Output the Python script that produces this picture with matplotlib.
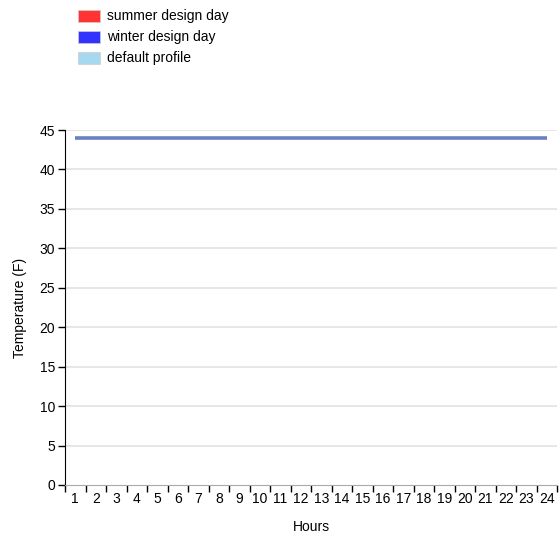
import numpy as np
import matplotlib.pyplot as plt
from matplotlib.patches import Rectangle

plt.rcParams['font.family'] = ['Liberation Sans', 'DejaVu Sans']

hours = list(range(1, 25))
temps = [44] * 24
legend_labels = ['summer design day', 'winter design day', 'default profile']
legend_colors = ['#ff3333', '#3333ff', '#a6d8f0']

fs = 10

fig = plt.figure(figsize=(5.6, 5.38), dpi=100)
ax = fig.add_axes([65 / 560, 1 - 485 / 538, 492 / 560, 355 / 538])

# band positions: hour i sits in the middle of band [i-1, i]
xpos = np.arange(len(hours)) + 0.5
ax.plot(xpos, temps, color='#6a80c0', linewidth=2.6, solid_capstyle='butt')

ax.set_xlim(0, len(hours))
ax.set_ylim(0, 45)
ax.set_yticks(range(0, 46, 5))
ax.set_xticks(np.arange(len(hours) + 1))
ax.set_xticklabels([])
ax.set_xticks(xpos, minor=True)
ax.set_xticklabels([str(h) for h in hours], minor=True)
ax.tick_params(axis='x', which='minor', length=0, labelsize=fs, pad=5)
ax.tick_params(axis='x', which='major', length=5, width=1, color='black')
ax.tick_params(axis='y', length=5, width=1, labelsize=fs, pad=2)

for y in range(5, 46, 5):
    ax.axhline(y, color='#e3e3e3', linewidth=1.2, zorder=0)

ax.spines['top'].set_visible(False)
ax.spines['right'].set_visible(False)
ax.spines['bottom'].set_color('#aaaaaa')
ax.spines['left'].set_color('black')

ax.set_xlabel('Hours', fontsize=fs, labelpad=10)
ax.set_ylabel('Temperature (F)', fontsize=fs, labelpad=9)

# legend at top left
for i, (lab, col) in enumerate(zip(legend_labels, legend_colors)):
    y0 = 538 - 10 - i * 21
    fig.patches.append(Rectangle((78 / 560, (y0 - 12) / 538), 22 / 560, 12 / 538,
                                 transform=fig.transFigure, facecolor=col,
                                 edgecolor='#cccccc', linewidth=0.5))
    fig.text(107 / 560, (y0 - 6) / 538, lab, fontsize=fs, va='center', ha='left')

fig.savefig('out.png', dpi=100)
